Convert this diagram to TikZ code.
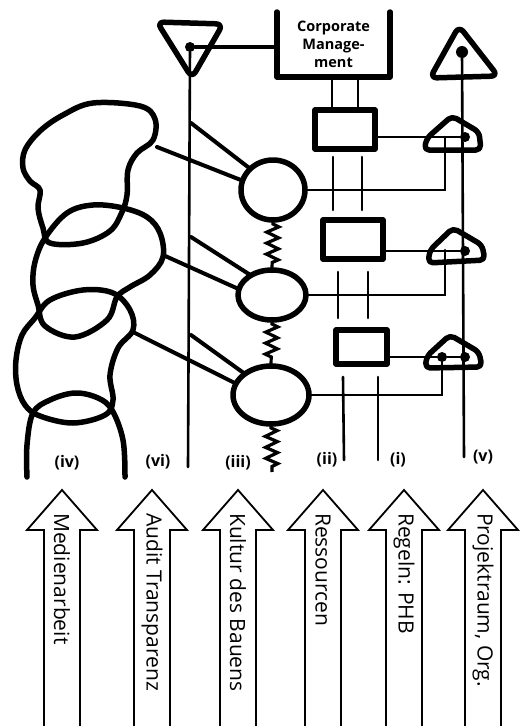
\documentclass[tikz,border=0pt]{standalone}
\usepackage{fontspec}
\setsansfont{Open Sans}
\usetikzlibrary{shapes.geometric,decorations.pathmorphing}

\tikzset{
  heavy/.style={line width=5.5pt,line cap=round,line join=round},
  link/.style={line width=4pt,line cap=round},
  wire/.style={line width=2.6pt,line cap=round},
  ressbox/.style={draw,heavy,rectangle,inner sep=0pt,outer sep=0pt},
  ring/.style={draw,heavy,ellipse,inner sep=0pt,outer sep=0pt},
  dot/.style={circle,fill,inner sep=0pt,minimum size=10pt},
  spring/.style={line width=3.2pt,decorate,decoration={zigzag,amplitude=6pt,segment length=11pt,pre length=4pt,post length=4pt}},
  hand/.style={font=\sffamily\bfseries\fontsize{16}{18}\selectfont},
  pillar/.style={line width=1.8pt,line join=miter},
  pillartext/.style={rotate=-90,anchor=west,inner sep=0pt,font=\sffamily\fontsize{21}{24}\selectfont}
}

\begin{document}
\begin{tikzpicture}[x=1pt,y=-1pt]
  \useasboundingbox (0,0) rectangle (528,726);
  \clip (0,0) rectangle (528,726);

  % Corporate Management
  \node (cm) at (333.5,44.5) [minimum width=113pt,minimum height=65pt,inner sep=0pt,outer sep=0pt,align=center,hand,font=\sffamily\bfseries\fontsize{14.5}{18}\selectfont] {Corporate\\Manage-\\ment};
  \draw[heavy] (cm.north west) -- (cm.south west) -- (cm.south east) -- (cm.north east);

  % (vi) audit
  \draw[heavy,rounded corners=7pt] (157,22) -- (223,24) -- (192,78) -- cycle;
  \node (aTop) at (190,47) [dot] {};
  \coordinate (aEnd) at (188,467);
  \draw[wire] (aTop) -- (aEnd);
  \draw[link] (aTop) -- (aTop -| cm.west);

  % (v) projektraum
  \draw[heavy,rounded corners=7pt] (459,26) -- (498,76) -- (430,78) -- cycle;
  \node (vTop) at (462,52) [dot,minimum size=12pt] {};
  \coordinate (vEnd) at (464,457);
  \draw[wire] (vTop) -- (vEnd);

  % (ii)/(i) ressourcen, regeln
  \node (rA) at (345,129.5) [ressbox,minimum width=60pt,minimum height=39pt] {};
  \node (rB) at (353,239.5) [ressbox,minimum width=60pt,minimum height=39pt] {};
  \node (rC) at (361.5,347) [ressbox,minimum width=51pt,minimum height=34pt] {};
  \foreach \a/\b in {-1.5/-13,24.5/13}
    \draw[wire] ([xshift=\a pt]cm.south) -- ([xshift=\b pt]rA.north);
  \foreach \a/\b in {-12/-20,17/9}
    \draw[wire,shorten <=8pt,shorten >=10pt] ([xshift=\a pt]rA.south) -- ([xshift=\b pt]rB.north);
  \foreach \a/\b in {-15/-23.5,15/6.5}
    \draw[wire,shorten <=13pt,shorten >=12pt] ([xshift=\a pt]rB.south) -- ([xshift=\b pt]rC.north);
  \coordinate (iiEnd) at (344,460);
  \coordinate (iEnd) at (378,460);
  \draw[wire] ([xshift=-18.5pt]rC.south) ++(0,13) -- (iiEnd);
  \draw[wire] ([xshift=16.5pt]rC.south) ++(0,13) -- (iEnd);

  % small triangles on (v)
  \draw[heavy,rounded corners=5pt] (424,150) -- (427,138) -- (452,116) -- (479,132) -- (481,150) -- cycle;
  \draw[heavy,rounded corners=5pt] (428,263) -- (430,250) -- (453,228) -- (482,245) -- (485,260) -- cycle;
  \draw[heavy,rounded corners=5pt] (425,368) -- (427,356) -- (450,335) -- (479,352) -- (482,367) -- cycle;
  \node (dA) at (465,137) [dot] {};
  \node (dB) at (465,251) [dot] {};
  \node (dC) at (465,357) [dot] {};
  \coordinate (jA) at (445,137);
  \coordinate (jB) at (445,250);
  \node (jC) at (442,357) [dot] {};
  \draw[wire] (rA.east |- dA) -- (dA);
  \draw[wire] (rB.east |- dB) -- (dB);
  \draw[wire] (rC.east |- dC) -- (jC) -- (dC);

  % (iii) kultur des bauens
  \node (cA) at (273,190) [ring,minimum width=64pt,minimum height=60pt] {};
  \node (cB) at (272,295) [ring,minimum width=68pt,minimum height=50pt] {};
  \node (cC) at (271,395) [ring,minimum width=76pt,minimum height=58pt] {};
  \coordinate (kEnd) at (272,472);
  \draw[spring] (cA.south) -- (cB.north);
  \draw[spring] (cB.south) -- (cC.north);
  \draw[spring] (cC.south) -- (kEnd);
  \draw[wire] (cA.east) -| (jA);
  \draw[wire] (cB.east) -| (jB);
  \draw[wire] (cC.east) -| (jC);

  % (iv) medienarbeit
  \draw[heavy] plot[smooth cycle,tension=0.6] coordinates {(50,243) (43,228) (38,208) (40,190) (30,181) (23,168) (25,150) (40,131) (63,115) (93,103) (140,106) (155,119) (153,140) (137,153) (128,170) (127,195) (122,212) (110,231) (83,243)};
  \draw[heavy] plot[smooth cycle,tension=0.6] coordinates {(45,238) (67,213) (93,205) (123,208) (147,217) (160,233) (163,257) (150,275) (130,287) (117,297) (107,320) (75,337) (45,326) (38,305) (33,285) (35,262)};
  \draw[heavy] plot[smooth cycle,tension=0.6] coordinates {(35,318) (50,300) (83,290) (113,293) (130,310) (133,330) (118,348) (110,375) (113,400) (105,415) (73,423) (40,416) (25,405) (17,385) (16,360) (22,335)};
  \draw[heavy] plot[smooth,tension=0.6] coordinates {(27,477) (27,445) (33,413) (50,400) (75,393) (98,398) (112,410) (123,440) (125,477)};

  \coordinate (mA) at (157,147);
  \coordinate (mB) at (163,255);
  \coordinate (mC) at (133,332);
  \coordinate (aA) at (191,123);
  \coordinate (aB) at (191,237);
  \coordinate (aC) at (191,335);
  \draw[link] (mA) -- (cA.163);
  \draw[link] (aA) -- (cA.137);
  \draw[link] (mB) -- (cB.170);
  \draw[link] (aB) -- (cB.137);
  \draw[link] (mC) -- (cC.162);
  \draw[link] (aC) -- (cC.141);

  % labels
  \node (labIV) at (67,463) [hand] {(iv)};
  \node (labVI) at (158,462) [hand] {(vi)};
  \node (labIII) at (238,463) [hand] {(iii)};
  \node (labII) at (327,460) [hand] {(ii)};
  \node (labI) at (398,460) [hand] {(i)};
  \node (labV) at (483,457) [hand] {(v)};

  % arrows
  \foreach \x/\txt [count=\i] in {62/Medienarbeit,152/Audit Transparenz,238/Kultur des Bauens,323/Ressourcen,404/Regeln: PHB,483/{Projektraum, Org.}} {
    \draw[pillar] (\x-18,740) -- (\x-18,530) -- (\x-35,530) -- (\x,490) -- (\x+35,530) -- (\x+18,530) -- (\x+18,740);
    \node (p\i) at (\x,513) [pillartext] {\txt};
  }
\end{tikzpicture}
\end{document}
